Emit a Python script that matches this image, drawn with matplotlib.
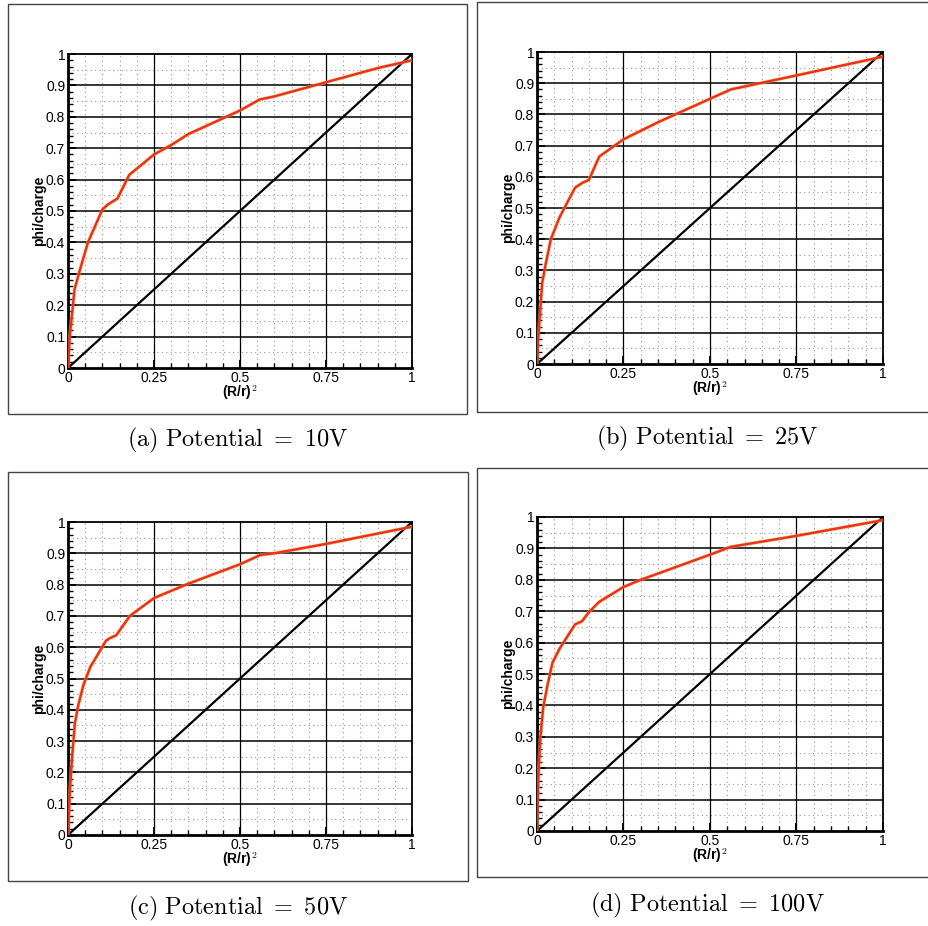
import matplotlib.pyplot as plt
import matplotlib.ticker as mticker
from matplotlib.patches import Rectangle

# phi/charge vs (R/r)^2 for four potentials
x_10 = [0, 0.005, 0.014, 0.019, 0.034, 0.058, 0.10, 0.115, 0.144, 0.178, 0.25,
        0.30, 0.35, 0.45, 0.50, 0.557, 0.60, 0.75, 0.90, 1.0]
y_10 = [0, 0.10, 0.196, 0.25, 0.31, 0.40, 0.505, 0.52, 0.54, 0.615, 0.68,
        0.71, 0.745, 0.795, 0.82, 0.855, 0.865, 0.91, 0.955, 0.98]

x_25 = [0, 0.003, 0.008, 0.015, 0.025, 0.04, 0.065, 0.11, 0.13, 0.15, 0.18,
        0.25, 0.35, 0.50, 0.56, 0.75, 1.0]
y_25 = [0, 0.07, 0.15, 0.26, 0.32, 0.40, 0.47, 0.565, 0.58, 0.59, 0.665,
        0.72, 0.775, 0.85, 0.88, 0.925, 0.985]

x_50 = [0, 0.003, 0.006, 0.012, 0.02, 0.03, 0.045, 0.065, 0.11, 0.12, 0.14,
        0.18, 0.25, 0.35, 0.50, 0.56, 0.60, 0.75, 1.0]
y_50 = [0, 0.08, 0.15, 0.25, 0.357, 0.415, 0.48, 0.537, 0.62, 0.628, 0.638,
        0.70, 0.757, 0.803, 0.865, 0.895, 0.90, 0.93, 0.985]

x_100 = [0, 0.002, 0.005, 0.01, 0.018, 0.03, 0.045, 0.065, 0.11, 0.13, 0.15,
         0.18, 0.25, 0.30, 0.50, 0.56, 0.75, 1.0]
y_100 = [0, 0.10, 0.20, 0.30, 0.394, 0.463, 0.537, 0.58, 0.658, 0.668, 0.697,
         0.73, 0.777, 0.80, 0.88, 0.905, 0.94, 0.99]

ref_x = [0, 1]
ref_y = [0, 1]

captions = ['(a)\\ Potential\\ =\\ 10V', '(b)\\ Potential\\ =\\ 25V',
            '(c)\\ Potential\\ =\\ 50V', '(d)\\ Potential\\ =\\ 100V']
xtick_labels = ['0', '0.25', '0.5', '0.75', '1']
ytick_labels = ['0', '0.1', '0.2', '0.3', '0.4', '0.5', '0.6', '0.7', '0.8', '0.9', '1']

plt.rcParams['font.family'] = ['Liberation Sans', 'DejaVu Sans']
plt.rcParams['mathtext.fontset'] = 'cm'

W, H = 929, 926
fig = plt.figure(figsize=(W / 100, H / 100), dpi=100)

# pixel boxes: axes (left, right, top, bottom), frame (left, right, top, bottom), caption (cx, cy)
panels = [
    ((68, 412, 54, 368), (8, 467, 4, 414), (238, 440), x_10, y_10),
    ((537, 883, 52, 364), (477, 940, 2, 412), (707, 438), x_25, y_25),
    ((68, 412, 522, 835), (8, 468, 472, 881), (238, 908), x_50, y_50),
    ((537, 883, 517, 831), (477, 940, 468, 877), (707, 905), x_100, y_100),
]


def fx(px):
    return px / W


def fy(py):
    return 1 - py / H


for i, (abox, fbox, cap, xs, ys) in enumerate(panels):
    l, r, t, b = abox
    ax = fig.add_axes([fx(l), fy(b), (r - l) / W, (b - t) / H])

    # outer frame around the panel
    fl, fr, ft, fb = fbox
    fig.patches.append(Rectangle((fx(fl), fy(fb)), (fr - fl) / W, (fb - ft) / H,
                                 transform=fig.transFigure, fill=False,
                                 edgecolor='#444444', linewidth=1.0))

    ax.set_xlim(0, 1)
    ax.set_ylim(0, 1)
    ax.xaxis.set_major_locator(mticker.FixedLocator([0, 0.25, 0.5, 0.75, 1]))
    ax.xaxis.set_major_formatter(mticker.FixedFormatter(xtick_labels))
    ax.yaxis.set_major_locator(mticker.FixedLocator([k / 10 for k in range(11)]))
    ax.yaxis.set_major_formatter(mticker.FixedFormatter(ytick_labels))
    ax.xaxis.set_minor_locator(mticker.MultipleLocator(0.05))
    ax.yaxis.set_minor_locator(mticker.MultipleLocator(0.02))

    # grid: solid majors, dotted gray at the 0.05 marks
    for v in [0.25, 0.5, 0.75]:
        ax.axvline(v, color='black', linewidth=0.9, zorder=1)
    for v in [k / 10 for k in range(1, 10)]:
        ax.axhline(v, color='black', linewidth=1.1, zorder=1)
    for v in [k * 0.05 for k in range(1, 20)]:
        if abs(v * 4 - round(v * 4)) > 1e-6:
            ax.axvline(v, color='#999999', linewidth=0.8, linestyle=(0, (1, 3)), zorder=0.5)
        if abs(v * 10 - round(v * 10)) > 1e-6:
            ax.axhline(v, color='#999999', linewidth=0.8, linestyle=(0, (1, 3)), zorder=0.5)

    ax.plot(ref_x, ref_y, color='black', linewidth=1.6, zorder=3)
    ax.plot(xs, ys, color='#f4b030', linewidth=2.6, zorder=3.5, alpha=0.6)
    ax.plot(xs, ys, color='#ea2f22', linewidth=1.7, zorder=4)

    ax.tick_params(which='both', direction='in', top=False, right=False,
                   labelsize=10, pad=2)
    ax.tick_params(which='major', length=6, width=1.4)
    ax.tick_params(which='minor', length=3.5, width=1.0)
    for s in ['left', 'bottom']:
        ax.spines[s].set_linewidth(2.0)
    for s in ['top', 'right']:
        ax.spines[s].set_linewidth(1.3)

    ax.set_ylabel('phi/charge', fontsize=10, fontweight='bold', labelpad=0)
    ax.set_xlabel('(R/r)$^\\mathbf{2}$', fontsize=10, fontweight='bold', labelpad=-1)

    fig.text(fx(cap[0]), fy(cap[1]), '$\\mathrm{' + captions[i] + '}$',
             ha='center', va='center', fontsize=17.5)

plt.savefig('out.png', dpi=100)
